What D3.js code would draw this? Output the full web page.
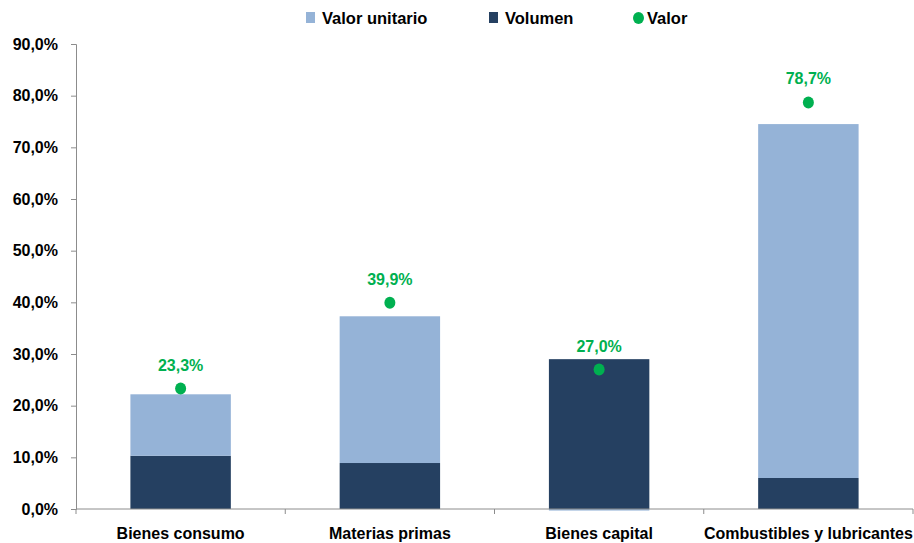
<!DOCTYPE html>
<html><head><meta charset="utf-8">
<script src="https://cdn.jsdelivr.net/npm/d3@7"></script>
<style>
body{margin:0;background:#fff;}
text{font-family:"Liberation Sans Narrow","Arial Narrow","Liberation Sans",sans-serif;font-weight:bold;}
</style></head><body>
<svg id="c" width="914" height="543"></svg>
<script>
const categories = ["Bienes consumo","Materias primas","Bienes capital","Combustibles y lubricantes"];
const volumen = [10.3, 8.9, 29.0, 6.0];
const valorUnitario = [11.9, 28.4, -0.3, 68.5];
const valor = [23.3, 39.9, 27.0, 78.7];
const yTicks = [0,10,20,30,40,50,60,70,80,90];
const seriesNames = ["Valor unitario","Volumen","Valor"];

const colors = {unit:"#95B3D7", vol:"#254061", val:"#00B050", axis:"#8C8C8C"};
const svg = d3.select("#c");
const m = {left:76, right:1, top:44, bottom:34};
const W = 914, H = 543;
const x = d3.scaleBand().domain(categories).range([m.left, W-m.right]).paddingInner(0.52).paddingOuter(0.26);
const xb = d3.scaleBand().domain(categories).range([m.left, W-m.right]);
const y = d3.scaleLinear().domain([0,90]).range([H-m.bottom, m.top]);
const fmt = v => d3.format(".1f")(v).replace(".", ",") + "%";

// y axis
const ya = svg.append("g").attr("transform",`translate(${m.left},0)`)
  .call(d3.axisLeft(y).tickValues(yTicks).tickSize(5).tickPadding(13).tickFormat(fmt));
ya.select(".domain").attr("stroke",colors.axis);
ya.selectAll(".tick line").attr("stroke",colors.axis);
ya.selectAll("text").attr("font-size",16).attr("fill","#000");

// bars
const g = svg.append("g");
categories.forEach((c,i)=>{
  const v = volumen[i], u = valorUnitario[i];
  const v0 = 0, v1 = v;
  g.append("rect").attr("x",x(c)).attr("width",x.bandwidth())
    .attr("y",y(Math.max(v0,v1))).attr("height",Math.abs(y(v0)-y(v1))).attr("fill",colors.vol);
  let u0,u1;
  if(u>=0){u0=v;u1=v+u;} else {u0=0;u1=u;}
  g.append("rect").attr("x",x(c)).attr("width",x.bandwidth())
    .attr("y",y(Math.max(u0,u1))).attr("height",Math.abs(y(u0)-y(u1))).attr("fill",colors.unit);
});

// x axis
const xa = svg.append("g").attr("transform",`translate(0,${y(0)})`);
xa.append("line").attr("x1",m.left).attr("x2",W-m.right).attr("stroke",colors.axis);
const bounds = categories.map(c=>xb(c)).concat([xb(categories[categories.length-1])+xb.bandwidth()]);
xa.selectAll("line.t").data(bounds).join("line").attr("class","t")
  .attr("x1",d=>d).attr("x2",d=>d).attr("y1",0).attr("y2",5).attr("stroke",colors.axis);
xa.selectAll("text").data(categories).join("text")
  .attr("x",d=>xb(d)+xb.bandwidth()/2).attr("y",30).attr("text-anchor","middle")
  .attr("font-size",16).attr("fill","#000").text(d=>d);

// valor points + labels
categories.forEach((c,i)=>{
  const cx = x(c)+x.bandwidth()/2;
  svg.append("ellipse").attr("cx",cx).attr("cy",y(valor[i])).attr("rx",5.5).attr("ry",6).attr("fill",colors.val);
  svg.append("text").attr("x",cx).attr("y",y(valor[i])-18).attr("text-anchor","middle")
    .attr("font-size",16).attr("fill",colors.val).text(fmt(valor[i]));
});

// legend
const lg = svg.append("g");
const lx = [306, 489, 633];
lg.append("rect").attr("x",lx[0]).attr("y",12).attr("width",9).attr("height",11).attr("fill",colors.unit);
lg.append("rect").attr("x",lx[1]).attr("y",12).attr("width",9).attr("height",11).attr("fill",colors.vol);
lg.append("ellipse").attr("cx",lx[2]+5.5).attr("cy",18).attr("rx",5.5).attr("ry",6).attr("fill",colors.val);
seriesNames.forEach((s,i)=>{
  lg.append("text").attr("x",lx[i]+(i==2?14:16)).attr("y",24).attr("font-size",16.5).attr("fill","#000").text(s);
});
</script>
</body></html>
